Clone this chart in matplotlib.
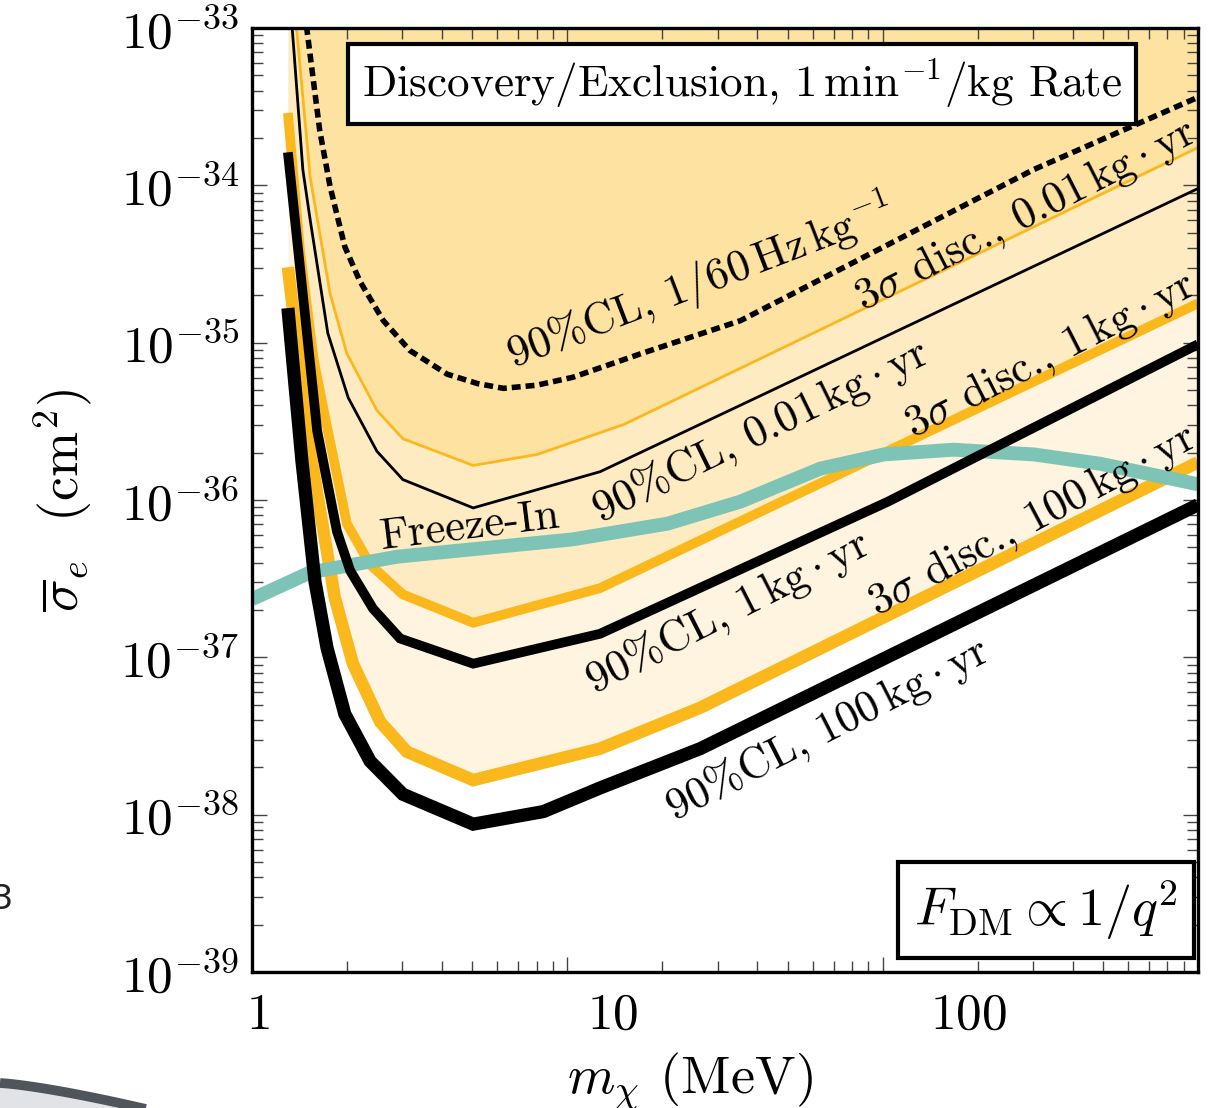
import numpy as np
import matplotlib
matplotlib.use('Agg')
import matplotlib.pyplot as plt
from matplotlib.ticker import FixedLocator, LogLocator, NullFormatter, FuncFormatter
from matplotlib.transforms import ScaledTranslation
from matplotlib.patches import Polygon
from matplotlib.lines import Line2D

plt.rcParams['font.family'] = 'cmr10'
plt.rcParams['mathtext.fontset'] = 'cm'
plt.rcParams['axes.unicode_minus'] = False

# masses in MeV, log10 cross sections in cm^2
m_cl100 = [1.30, 1.44, 1.585, 1.73, 1.97, 2.37, 3.01, 5.03, 8.4, 12.7, 26.4, 1000]
s_cl100 = [-34.78, -35.75, -36.52, -36.94, -37.36, -37.66, -37.87, -38.06, -37.98, -37.83, -37.58, -36.03]

m_disc100 = [1.30, 1.52, 1.83, 2.09, 2.55, 3.10, 5.03, 12.7, 26.4, 1000]
s_disc100 = [-34.52, -35.66, -36.62, -37.04, -37.41, -37.60, -37.78, -37.58, -37.32, -35.76]

m_cl1 = [1.30, 1.61, 1.86, 2.05, 2.42, 2.95, 5.03, 12.7, 104, 1000]
s_cl1 = [-33.79, -35.56, -36.20, -36.45, -36.69, -36.88, -37.04, -36.85, -36.01, -35.01]

m_disc1 = [1.30, 1.42, 1.57, 1.74, 2.00, 2.37, 3.01, 5.03, 12.7, 1000]
s_disc1 = [-33.54, -34.41, -35.11, -35.56, -36.15, -36.41, -36.60, -36.78, -36.56, -34.75]

m_cl001 = [1.33, 1.45, 1.53, 1.74, 2.02, 2.49, 3.01, 5.03, 12.7, 1000]
s_cl001 = [-32.90, -33.90, -34.22, -34.94, -35.35, -35.69, -35.87, -36.05, -35.82, -34.02]

m_disc001 = [1.37, 1.53, 1.77, 2.00, 2.49, 3.01, 5.03, 8.03, 15.1, 1000]
s_disc001 = [-32.90, -33.95, -34.69, -35.07, -35.43, -35.61, -35.78, -35.71, -35.52, -33.76]

m_rate = [1.47, 1.64, 1.77, 1.97, 2.20, 2.61, 3.17, 4.16, 5.2, 6.27, 8.0, 10.4, 17.1, 35.4, 301, 1000]
s_rate = [-32.90, -33.65, -34.01, -34.39, -34.61, -34.86, -35.05, -35.20, -35.26, -35.29, -35.27, -35.22, -35.07, -34.86, -33.90, -33.44]

m_fi = [1.0, 1.53, 2.89, 10.4, 20.8, 35.4, 63.5, 101, 168, 301, 492, 1000]
s_fi = [-36.63, -36.46, -36.36, -36.25, -36.15, -36.01, -35.80, -35.71, -35.68, -35.71, -35.77, -35.90]

labels = [
    (r'90%CL, $1/60\,\mathrm{Hz}\,\mathrm{kg}^{-1}$', 26.4, -34.62, 21),
    (r'$3\sigma$ disc., $0.01\,\mathrm{kg}\cdot\mathrm{yr}$', 284, -34.19, 27),
    (r'90%CL, $0.01\,\mathrm{kg}\cdot\mathrm{yr}$', 41.0, -35.56, 26),
    (r'$3\sigma$ disc., $1\,\mathrm{kg}\cdot\mathrm{yr}$', 341, -35.08, 27),
    (r'Freeze-In', 4.92, -36.17, 7),
    (r'90%CL, $1\,\mathrm{kg}\cdot\mathrm{yr}$', 32.2, -36.71, 27),
    (r'$3\sigma$ disc., $100\,\mathrm{kg}\cdot\mathrm{yr}$', 299, -36.13, 28),
    (r'90%CL, $100\,\mathrm{kg}\cdot\mathrm{yr}$', 66.4, -37.45, 27),
]

orange = '#fbb81c'
teal = '#7dc4b7'
top = 1e-33

fig = plt.figure(figsize=(12.09, 11.08), dpi=100)
ax = fig.add_axes([0.2084, 0.1227, 0.7825, 0.852])

def pw(v):
    return 10.0 ** np.array(v)

# filled regions above the discovery curves
ax.fill_between(m_disc100, pw(s_disc100), top, color='#fff4e0', lw=0, zorder=1)
ax.fill_between(m_disc1, pw(s_disc1), top, color='#feebc2', lw=0, zorder=1.1)
ax.fill_between(m_disc001, pw(s_disc001), top, color='#fee2a1', lw=0, zorder=1.2)

kw = dict(solid_capstyle='butt', solid_joinstyle='miter')
ax.plot(m_disc100, pw(s_disc100), color=orange, lw=9, zorder=3, **kw)
ax.plot(m_disc1, pw(s_disc1), color=orange, lw=7, zorder=3, **kw)
ax.plot(m_disc001, pw(s_disc001), color=orange, lw=2, zorder=3, **kw)
ax.plot(m_fi, pw(s_fi), color=teal, lw=10, zorder=3.5, **kw)
ax.plot(m_cl100, pw(s_cl100), color='black', lw=9.5, zorder=4, **kw)
ax.plot(m_cl1, pw(s_cl1), color='black', lw=7, zorder=4, **kw)
ax.plot(m_cl001, pw(s_cl001), color='black', lw=2, zorder=4, **kw)
ax.plot(m_rate, pw(s_rate), color='black', lw=4, ls=(0, (1.6, 0.9)), zorder=4,
        dash_capstyle='butt')

for txt, xm, ys, ang in labels:
    ax.text(xm, 10 ** ys, txt, fontsize=32, rotation=ang, rotation_mode='anchor',
            ha='center', va='center', zorder=6)

ax.text(0.518, 0.941, r'Discovery/Exclusion, $1\,\mathrm{min}^{-1}/\mathrm{kg}$ Rate',
        transform=ax.transAxes, fontsize=32.5, ha='center', va='center', zorder=7,
        bbox=dict(boxstyle='square,pad=0.3', fc='white', ec='black', lw=3))
ax.text(0.839, 0.066, r'$F_{\mathrm{DM}} \propto 1/q^2$',
        transform=ax.transAxes, fontsize=39, ha='center', va='center', zorder=7,
        bbox=dict(boxstyle='square,pad=0.3', fc='white', ec='black', lw=3),
        clip_on=False)

ax.set_xscale('log')
ax.set_yscale('log')
ax.set_xlim(1, 1000)
ax.set_ylim(1e-39, 1e-33)

ax.xaxis.set_major_locator(FixedLocator([1, 10, 100]))
ax.xaxis.set_minor_locator(LogLocator(base=10, subs=np.arange(2, 10), numticks=20))
ax.xaxis.set_major_formatter(FuncFormatter(lambda v, p: '$%d$' % round(v)))
ax.xaxis.set_minor_formatter(NullFormatter())
ax.yaxis.set_major_locator(LogLocator(base=10, numticks=20))
ax.yaxis.set_minor_locator(LogLocator(base=10, subs=np.arange(2, 10), numticks=20))
ax.yaxis.set_major_formatter(FuncFormatter(lambda v, p: '$10^{%d}$' % round(np.log10(v))))
ax.yaxis.set_minor_formatter(NullFormatter())

ax.tick_params(which='both', direction='in', top=True, right=True, colors='#444444',
               labelcolor='black', width=1)
ax.tick_params(which='major', length=11)
ax.tick_params(which='minor', length=8)
ax.tick_params(axis='x', labelsize=37, pad=15)
ax.tick_params(axis='y', labelsize=37, pad=9)
for sp in ax.spines.values():
    sp.set_linewidth(2.4)
    sp.set_zorder(8)

# x tick labels sit to the right of their ticks in the original
for lab, dx in zip(ax.get_xticklabels(), [6, 45, 86]):
    lab.set_transform(lab.get_transform() + ScaledTranslation(dx / 100, 0, fig.dpi_scale_trans))

ax.set_xlabel(r'$m_\chi$ (MeV)', fontsize=39)
ax.xaxis.set_label_coords(0.463, -0.083)
ax.set_ylabel(r'$\overline{\sigma}_e$  (cm$^2$)', fontsize=39)
ax.yaxis.set_label_coords(-0.166, 0.5)

# bits of the slide behind the figure
fig.text(0.002, 0.188, '3', fontsize=24, ha='center', va='center', color='#222222',
         family='DejaVu Sans')
arc_x = np.linspace(0, 170, 20)
arc_y = 1083 + 27 * (arc_x / 150) ** 1.3
pts = np.column_stack([arc_x / 1209, 1 - arc_y / 1108])
fig.add_artist(Polygon(np.vstack([pts, [[170 / 1209, 0], [0, 0]]]), closed=True,
                       transform=fig.transFigure, fc='#e2e3e6', lw=0))
fig.add_artist(Line2D(pts[:, 0], pts[:, 1], transform=fig.transFigure,
                      color='#50555c', lw=7, solid_capstyle='butt'))

fig.savefig('out.png', dpi=100)
